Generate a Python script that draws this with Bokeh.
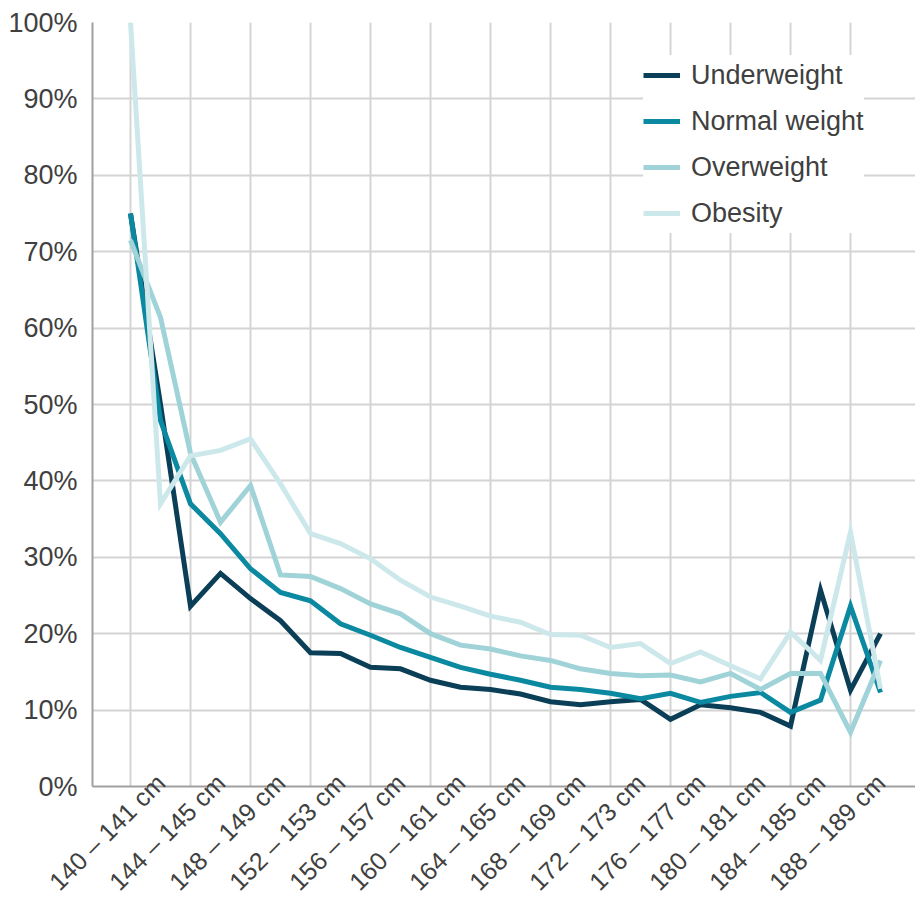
import math
from bokeh.plotting import figure
from bokeh.models import (Range1d, FixedTicker, PrintfTickFormatter, Legend, LegendItem)
from bokeh.embed import file_html
from bokeh.resources import INLINE

# ---- data ----
categories = ["140 – 141 cm", "142 – 143 cm", "144 – 145 cm", "146 – 147 cm",
              "148 – 149 cm", "150 – 151 cm", "152 – 153 cm", "154 – 155 cm",
              "156 – 157 cm", "158 – 159 cm", "160 – 161 cm", "162 – 163 cm",
              "164 – 165 cm", "166 – 167 cm", "168 – 169 cm", "170 – 171 cm",
              "172 – 173 cm", "174 – 175 cm", "176 – 177 cm", "178 – 179 cm",
              "180 – 181 cm", "182 – 183 cm", "184 – 185 cm", "186 – 187 cm",
              "188 – 189 cm", "190 – 191 cm"]
underweight = [75, 50, 23.6, 27.9, 24.6, 21.7, 17.5, 17.4, 15.6, 15.4, 13.9, 13.0, 12.7,
               12.1, 11.1, 10.7, 11.1, 11.4, 8.8, 10.7, 10.3, 9.7, 7.9, 25.7, 12.6, 20.0]
normal = [75, 47.9, 37.0, 33.1, 28.5, 25.4, 24.3, 21.3, 19.8, 18.2, 16.9, 15.6, 14.7,
          13.9, 13.0, 12.7, 12.2, 11.5, 12.2, 11.0, 11.8, 12.3, 9.7, 11.3, 23.6, 12.3]
overweight = [71.5, 61.4, 43.6, 34.6, 39.4, 27.7, 27.5, 25.9, 23.9, 22.6, 20.0, 18.5, 18.0,
              17.1, 16.5, 15.4, 14.8, 14.5, 14.6, 13.7, 14.8, 12.7, 14.8, 14.8, 7.1, 16.5]
obesity = [100, 37.0, 43.3, 44.0, 45.5, 39.6, 33.1, 31.8, 29.8, 27.0, 24.8, 23.6, 22.3,
           21.5, 19.9, 19.8, 18.2, 18.7, 16.1, 17.6, 15.8, 14.1, 20.2, 16.5, 33.3, 12.8]
series_names = ["Underweight", "Normal weight", "Overweight", "Obesity"]
y_ticks = [0, 10, 20, 30, 40, 50, 60, 70, 80, 90, 100]

colors = ["#0b3f57", "#0a89a1", "#9fd3d8", "#cde8eb"]
FONT = "Liberation Sans"
TEXT = "#404040"

x = list(range(len(categories)))
label_idx = list(range(0, len(categories) - 1, 2))
LABEL_SHIFT = 1.0  # rotated labels end slightly right of their category

p = figure(width=915, height=909,
           x_range=Range1d(-38 / 30, 785 / 30), y_range=Range1d(0, 100),
           output_backend="svg", toolbar_location=None,
           min_border_left=92, min_border_right=0, min_border_top=22, min_border_bottom=123)
p.outline_line_color = None
p.background_fill_color = "white"
p.border_fill_color = "white"

# x axis: labels every other category
p.xaxis.ticker = FixedTicker(ticks=[i + LABEL_SHIFT for i in label_idx])
p.xaxis.major_label_overrides = {i + LABEL_SHIFT: categories[i] for i in label_idx}
p.xaxis.major_label_orientation = math.pi / 4
p.xaxis.major_label_standoff = -8
p.xaxis.major_tick_line_color = None
p.xaxis.minor_tick_line_color = None
p.xaxis.major_tick_out = 0
p.xaxis.major_tick_in = 0
p.xaxis.minor_tick_out = 0
p.xaxis.axis_line_color = "#a0a0a0"
p.xaxis.axis_line_width = 2
p.xaxis.major_label_text_font = FONT
p.xaxis.major_label_text_font_size = "25px"
p.xaxis.major_label_text_color = TEXT

p.yaxis.ticker = FixedTicker(ticks=y_ticks)
p.yaxis.formatter = PrintfTickFormatter(format="%d%%")
p.yaxis.major_tick_line_color = None
p.yaxis.minor_tick_line_color = None
p.yaxis.major_tick_out = 0
p.yaxis.major_tick_in = 0
p.yaxis.major_label_standoff = 15
p.yaxis.axis_line_color = "#a0a0a0"
p.yaxis.axis_line_width = 2
p.yaxis.major_label_text_font = FONT
p.yaxis.major_label_text_font_size = "27px"
p.yaxis.major_label_text_color = TEXT

# grids
p.xgrid.ticker = FixedTicker(ticks=label_idx)
p.xgrid.grid_line_color = "#d4d4d4"
p.xgrid.grid_line_width = 2
p.ygrid.grid_line_color = "#d4d4d4"
p.ygrid.grid_line_width = 2

renderers = []
for name, vals, col in zip(series_names, [underweight, normal, overweight, obesity], colors):
    r = p.line(x, vals, line_color=col, line_width=5, line_join="miter")
    renderers.append(r)

legend = Legend(items=[LegendItem(label=n, renderers=[r]) for n, r in zip(series_names, renderers)],
                location=(551, 553))
legend.label_text_font = FONT
legend.label_text_font_size = "27px"
legend.label_text_color = TEXT
legend.label_height = 40
legend.glyph_height = 40
legend.glyph_width = 37
legend.label_standoff = 11
legend.spacing = 6
legend.padding = 20
legend.margin = 0
legend.border_line_color = None
legend.background_fill_color = "white"
legend.background_fill_alpha = 1.0
p.add_layout(legend)

open("out.html", "w").write(file_html(p, INLINE))
